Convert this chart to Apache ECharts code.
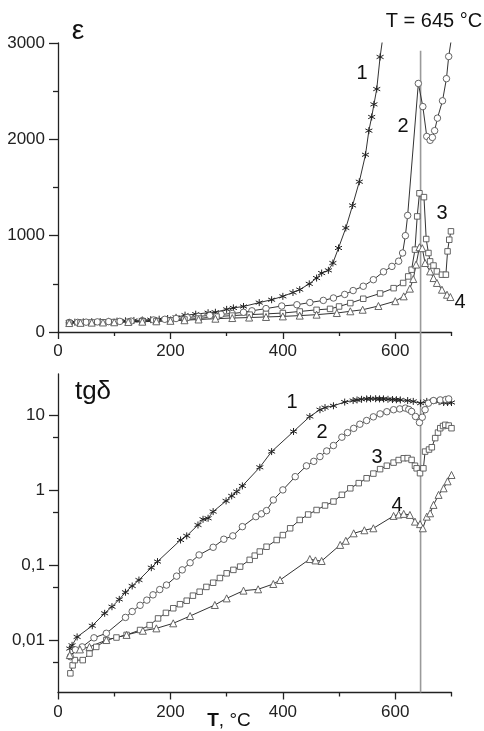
<!DOCTYPE html>
<html>
<head>
<meta charset="utf-8">
<script src="https://cdn.jsdelivr.net/npm/echarts@6/dist/echarts.min.js"></script>
<style>
html,body{margin:0;padding:0;background:#fff;}
#c{width:484px;height:731px;}
</style>
</head>
<body>
<div id="c"></div>
<script>
// ---- data: [T (°C), value] ----
const eps1 = [[20,100],[30,102],[45,105],[60,107],[75,108],[90,110],[105,113],[120,116],[135,120],[150,124],[165,128],[180,133],[195,140],[210,152],[226,175],[245,185],[267,200],[280,205],[300,235],[312,250],[330,265],[358,305],[380,335],[400,370],[418,410],[430,440],[447,500],[460,560],[469,612],[481,640],[489,716],[499,872],[512,1080],[524,1314],[536,1560],[547,1840],[553,2090],[558,2232],[562,2363],[567,2522],[573,2855],[580,3150]];
const eps2 = [[20,98],[35,100],[50,102],[70,105],[90,108],[110,110],[130,113],[150,118],[170,125],[190,132],[210,140],[230,150],[250,162],[270,172],[290,183],[310,192],[330,205],[345,220],[370,243],[398,270],[425,283],[448,306],[472,328],[490,353],[510,390],[525,430],[543,475],[561,543],[579,625],[594,681],[606,735],[613,820],[618,1000],[622,1210],[641,2580],[649,2340],[656,2030],[662,1990],[666,2020],[670,2090],[675,2220],[684,2400],[691,2630],[695,2860],[700,3050]];
const eps3 = [[20,95],[40,97],[60,99],[80,101],[100,103],[125,106],[150,110],[175,114],[200,120],[225,130],[250,140],[282,160],[310,170],[341,180],[370,188],[400,197],[430,213],[460,230],[484,240],[500,265],[520,300],[543,345],[573,400],[597,455],[614,509],[623,577],[629,647],[635,855],[639,1200],[643,1440],[651,1400],[655,965],[659,820],[662,733],[668,690],[674,629],[683,595],[690,595],[693,837],[696,958],[699,1045]];
const eps4 = [[20,93],[40,95],[60,97],[80,99],[100,101],[125,104],[150,107],[175,111],[200,116],[225,122],[250,130],[280,138],[310,145],[340,150],[370,156],[400,162],[430,170],[460,180],[496,197],[520,215],[542,231],[570,270],[600,320],[615,370],[626,450],[632,550],[637,700],[643,880],[648,870],[653,716],[662,629],[668,560],[674,509],[683,439],[692,387],[698,363]];

const tan1 = [[21,0.0077],[25,0.0085],[34,0.011],[61,0.0155],[83,0.0227],[96,0.0278],[109,0.0348],[120,0.0433],[132,0.0525],[144,0.063],[166,0.092],[177,0.111],[218,0.215],[229,0.244],[249,0.341],[258,0.406],[267,0.419],[276,0.514],[299,0.713],[309,0.832],[318,0.95],[328,1.13],[359,2.0],[380,3.24],[419,6.0],[448,9.5],[466,11.7],[475,12.5],[490,13.2],[510,14.8],[525,15.5],[532,15.8],[540,16.1],[549,16.3],[556,16.4],[565,16.4],[572,16.3],[579,16.3],[587,16.1],[595,16.0],[602,15.9],[609,15.8],[622,15.5],[632,15.1],[645,14.3],[656,15.1],[668,15.5],[678,15.0],[686,14.6],[693,14.6],[700,14.6]];
const tan2 = [[22,0.006],[31,0.0074],[43,0.0081],[64,0.0107],[86,0.0123],[120,0.020],[132,0.024],[146,0.029],[158,0.034],[169,0.04],[181,0.047],[193,0.054],[211,0.071],[221,0.086],[235,0.107],[251,0.136],[276,0.172],[295,0.22],[311,0.244],[328,0.324],[352,0.44],[362,0.48],[371,0.53],[383,0.735],[400,1.0],[422,1.5],[442,2.09],[455,2.4],[466,2.78],[478,3.3],[490,3.9],[505,5.04],[515,5.8],[526,6.6],[537,7.5],[549,8.4],[561,9.4],[573,10.3],[585,11.0],[597,11.7],[608,12.0],[618,12.3],[624,11.8],[629,11.1],[636,9.5],[643,7.9],[648,9.3],[653,11.7],[659,14.3],[668,15.5],[680,15.8],[690,16.0],[695,16.3]];
const tan3 = [[22,0.0036],[26,0.0046],[30,0.0054],[44,0.0054],[56,0.0066],[68,0.0081],[86,0.01],[104,0.0108],[122,0.0117],[146,0.0136],[163,0.0158],[178,0.0194],[192,0.023],[205,0.0265],[217,0.030],[229,0.0334],[240,0.039],[252,0.044],[264,0.051],[276,0.058],[288,0.067],[300,0.0774],[312,0.086],[324,0.095],[341,0.117],[350,0.133],[359,0.151],[371,0.175],[389,0.215],[400,0.25],[413,0.308],[430,0.398],[445,0.47],[460,0.54],[475,0.62],[490,0.7],[505,0.86],[520,1.05],[535,1.23],[549,1.43],[561,1.65],[573,1.89],[585,2.1],[597,2.31],[606,2.5],[615,2.64],[622,2.65],[629,2.51],[635,2.1],[638,1.94],[644,1.67],[650,1.94],[653,3.24],[660,3.45],[665,3.7],[671,4.9],[676,5.8],[680,6.64],[685,7.1],[689,7.36],[695,7.2],[700,6.64]];
const tan4 = [[21,0.0063],[39,0.0075],[56,0.0081],[86,0.01],[122,0.0117],[151,0.0133],[175,0.0143],[205,0.0167],[235,0.0209],[279,0.0293],[300,0.0359],[330,0.0455],[356,0.0474],[383,0.0558],[395,0.063],[448,0.12],[458,0.115],[469,0.113],[502,0.185],[512,0.21],[526,0.264],[545,0.29],[561,0.308],[597,0.45],[606,0.47],[615,0.479],[626,0.464],[635,0.378],[644,0.35],[649,0.308],[656,0.44],[662,0.488],[668,0.631],[677,0.858],[686,1.05],[693,1.3],[700,1.58]];

// ---- tick labels ----
const tempTicks = [0, 200, 400, 600];
const tempMinorTicks = [100, 300, 500, 700];
const epsTicks = [0, 1000, 2000, 3000];
const epsMinorTicks = [500, 1500, 2500];
const tanTicks = [0.01, 0.1, 1, 10];
const tanMinorTicks = [0.005, 0.05, 0.5, 5];
const transitionT = 645;

const FONT = "'Liberation Sans', Arial, sans-serif";
const AX = '#222';

function xMajor(grid) {
  return {
    gridIndex: grid, type: 'value', min: 0, max: 700, position: 'bottom',
    axisLine: { onZero: false, lineStyle: { color: AX, width: 1.3 } },
    axisTick: { customValues: tempTicks, length: 7, lineStyle: { color: AX, width: 1.3 } },
    axisLabel: { customValues: tempTicks, fontSize: 17, color: AX, margin: 11, fontFamily: FONT,
                 formatter: function (v) { return String(v); } },
    splitLine: { show: false }
  };
}
function xMinor(grid) {
  return {
    gridIndex: grid, type: 'value', min: 0, max: 700, position: 'bottom',
    axisLine: { show: false, onZero: false },
    axisTick: { customValues: tempMinorTicks, length: 4, lineStyle: { color: AX, width: 1.3 } },
    axisLabel: { show: false },
    splitLine: { show: false }
  };
}

const asterisk = 'path://M5,0L5,10M0.67,2.5L9.33,7.5M0.67,7.5L9.33,2.5';

function ser(data, xi, yi, symbol, size, extra) {
  return Object.assign({
    type: 'line', data: data, xAxisIndex: xi, yAxisIndex: yi,
    symbol: symbol, symbolSize: size, showSymbol: true, showAllSymbol: true,
    lineStyle: { color: '#333', width: 1 },
    itemStyle: { color: '#fff', borderColor: '#555', borderWidth: 0.9 },
    emphasis: { disabled: true },
    clip: true, z: 3
  }, extra || {});
}
const starStyle = { itemStyle: { color: 'none', borderColor: '#222', borderWidth: 1 } };

const chart = echarts.init(document.getElementById('c'), null, { renderer: 'canvas' });
const option = {
  animation: false,
  backgroundColor: '#fff',
  grid: [
    { left: 58, top: 43, width: 393.5, height: 289 },
    { left: 58, top: 374, width: 393.5, height: 318.5 }
  ],
  xAxis: [xMajor(0), xMinor(0), xMajor(1), xMinor(1)],
  yAxis: [
    {
      gridIndex: 0, type: 'value', min: 0, max: 3000, position: 'left',
      axisLine: { show: true, onZero: false, lineStyle: { color: AX, width: 1.3 } },
      axisTick: { show: true, customValues: epsTicks, length: 9, lineStyle: { color: AX, width: 1.3 } },
      axisLabel: { customValues: epsTicks, fontSize: 17, color: AX, margin: 13, fontFamily: FONT,
                   formatter: function (v) { return String(v); } },
      splitLine: { show: false }
    },
    {
      gridIndex: 1, type: 'log', logBase: 10, min: 0.002, max: 35, position: 'left',
      axisLine: { show: true, onZero: false, lineStyle: { color: AX, width: 1.3 } },
      axisTick: { show: true, customValues: tanTicks, length: 9, lineStyle: { color: AX, width: 1.3 } },
      axisLabel: {
        customValues: tanTicks, fontSize: 17, color: AX, margin: 13, fontFamily: FONT,
        formatter: function (v) { return String(+(+v).toPrecision(6)).replace('.', ','); }
      },
      splitLine: { show: false }
    },
    {
      gridIndex: 1, type: 'log', logBase: 10, min: 0.002, max: 35, position: 'left',
      axisLine: { show: false, onZero: false },
      axisTick: { show: true, customValues: tanMinorTicks, length: 5, lineStyle: { color: AX, width: 1.3 } },
      axisLabel: { show: false },
      splitLine: { show: false }
    },
    {
      gridIndex: 0, type: 'value', min: 0, max: 3000, position: 'left',
      axisLine: { show: false, onZero: false },
      axisTick: { show: true, customValues: epsMinorTicks, length: 5, lineStyle: { color: AX, width: 1.3 } },
      axisLabel: { show: false },
      splitLine: { show: false }
    }
  ],
  series: [
    ser(eps1, 0, 0, asterisk, 7, starStyle),
    ser(eps2, 0, 0, 'circle', 6.5),
    ser(eps3, 0, 0, 'rect', 5.5),
    ser(eps4, 0, 0, 'triangle', 7),
    ser(tan1, 2, 1, asterisk, 7, starStyle),
    ser(tan2, 2, 1, 'circle', 6.5),
    ser(tan3, 2, 1, 'rect', 5.5),
    ser(tan4, 2, 1, 'triangle', 7)
  ]
};
chart.setOption(option);

// vertical transition line through both panels, located through the axes
const pTop = chart.convertToPixel({ xAxisIndex: 0, yAxisIndex: 0 }, [transitionT, 2920]);
const pBot = chart.convertToPixel({ xAxisIndex: 2, yAxisIndex: 1 }, [transitionT, 0.002]);

function txt(x, y, text, size, extra) {
  return {
    type: 'text', x: x, y: y, z: 10,
    style: Object.assign({ text: text, font: size + 'px ' + FONT, fill: '#111', align: 'center', verticalAlign: 'middle' }, extra || {})
  };
}

chart.setOption({
  graphic: [
    { type: 'line', z: 1, shape: { x1: pTop[0], y1: pTop[1], x2: pBot[0], y2: pBot[1] }, style: { stroke: '#9a9a9a', lineWidth: 1.6 } },
    txt(434, 21, 'T = 645 °C', 20),
    txt(78, 31, 'ε', 28),
    txt(93, 392, 'tgδ', 26),
    txt(362, 73, '1', 20),
    txt(403, 126, '2', 20),
    txt(442, 213, '3', 20),
    txt(460, 302, '4', 20),
    txt(292, 402, '1', 20),
    txt(322, 432, '2', 20),
    txt(377, 457, '3', 20),
    txt(397, 505, '4', 20),
    {
      type: 'text', x: 229, y: 721, z: 10,
      style: {
        text: '{b|T}, °C', font: '19px ' + FONT, fill: '#111', align: 'center', verticalAlign: 'middle',
        rich: { b: { fontWeight: 'bold', fontSize: 19, fontFamily: FONT } }
      }
    }
  ]
});
</script>
</body>
</html>
